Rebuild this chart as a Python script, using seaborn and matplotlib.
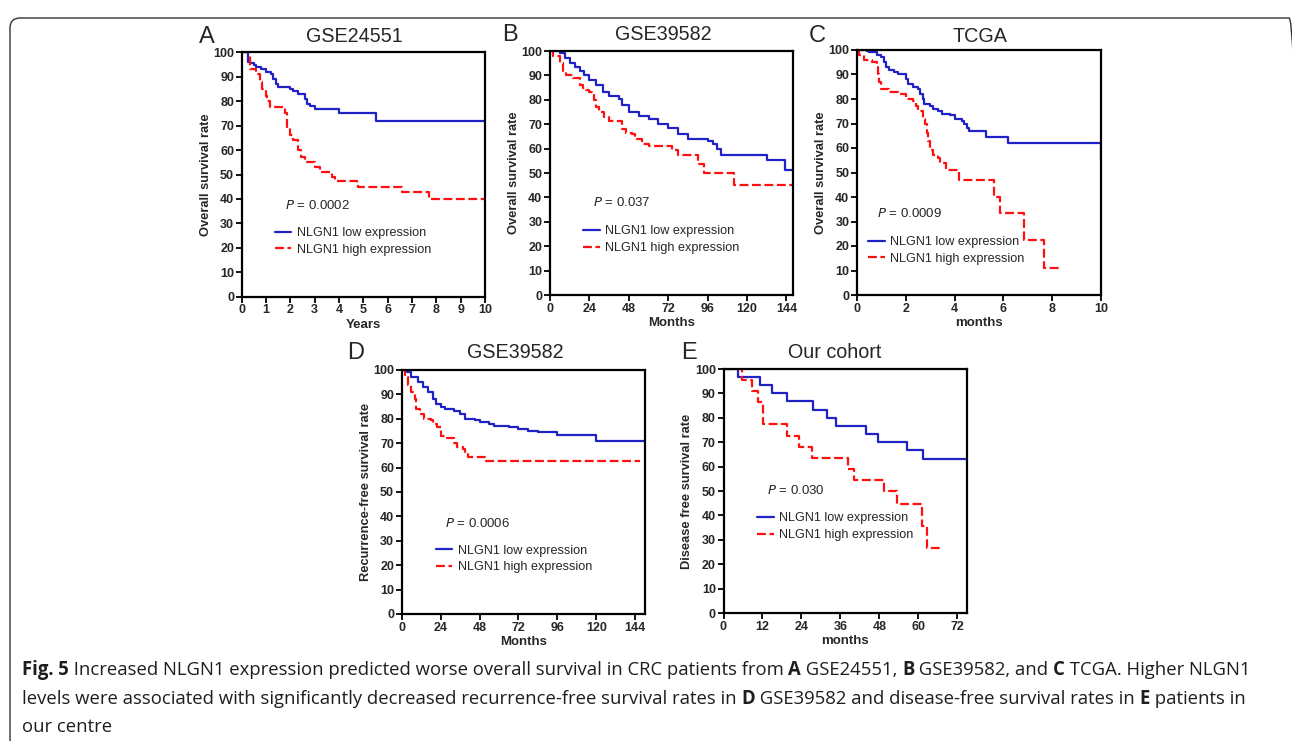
import numpy as np
import pandas as pd
import matplotlib
matplotlib.use("Agg")
import matplotlib.pyplot as plt
import seaborn as sns
from matplotlib.patches import FancyBboxPatch
from matplotlib.transforms import IdentityTransform

sns.set_style("ticks")
plt.rcParams["font.family"] = ["Liberation Sans", "DejaVu Sans"]

W, H = 1292, 741

# ---------------- data (step points: time, survival %) ----------------
# Panel A  GSE24551 (years)
a_low_t = [0, 0.27, 0.35, 0.5, 0.6, 0.8, 1.0, 1.2, 1.3, 1.4, 1.5, 2.0, 2.1, 2.3, 2.6, 2.7, 2.8, 3.0, 4.0, 5.5, 10]
a_low_s = [100, 96, 95.5, 95, 94, 93, 92, 91, 89, 87, 86, 85, 84, 83, 81, 79, 78, 77, 75, 72, 72]
a_high_t = [0, 0.35, 0.4, 0.6, 0.75, 0.85, 1.0, 1.05, 1.15, 1.8, 1.85, 2.0, 2.1, 2.3, 2.45, 2.6, 3.0, 3.2, 3.7, 3.85, 4.75, 4.8, 6.6, 7.7, 10]
a_high_s = [100, 93, 93, 91, 88, 85, 82, 80, 77.5, 75, 69, 66, 64, 60, 57, 55, 53, 51, 49, 47.5, 46, 45, 43, 40, 40]

# Panel B  GSE39582 OS (months)
b_low_t = [0, 6, 9, 12, 15, 18, 21, 24, 28, 32, 36, 42, 44, 48, 54, 60, 66, 72, 78, 84, 96, 99, 102, 104, 132, 143, 148]
b_low_s = [100, 99, 97, 95, 93.5, 92, 90, 88, 86, 83, 81.5, 80.5, 78, 75, 73.5, 72, 70, 68.5, 66, 64, 63, 62, 60, 57.5, 55.3, 51.4, 51.4]
b_high_t = [0, 2, 6, 8, 10, 14, 18, 20, 22, 24, 27, 28, 30, 33, 36, 44, 46, 50, 52, 56, 60, 74, 78, 90, 94, 112, 148]
b_high_s = [100, 98, 95, 92, 90, 89, 86, 85, 84, 83, 80, 77, 75, 73, 71.5, 68, 66.5, 66, 64, 62, 61, 59.5, 57.5, 53.5, 50, 45, 45]

# Panel C  TCGA (months axis 0-10)
c_low_t = [0, 0.4, 0.5, 0.8, 1.0, 1.1, 1.2, 1.3, 1.5, 1.7, 2.0, 2.1, 2.3, 2.5, 2.6, 2.7, 2.75, 3.0, 3.1, 3.3, 3.5, 3.8, 4.0, 4.3, 4.4, 4.5, 4.6, 5.3, 6.2, 9.98, 10]
c_low_s = [100, 99.5, 99, 98, 97, 95, 93, 92, 91, 90, 88, 86, 85, 84, 82, 80, 78, 77, 76, 75, 74, 73.5, 72, 71, 70, 68, 67, 64.5, 62, 55.5, 55.5]
c_high_t = [0, 0.1, 0.3, 0.6, 0.8, 0.85, 0.9, 1.0, 1.3, 1.7, 2.0, 2.3, 2.4, 2.5, 2.7, 2.8, 2.85, 2.9, 3.0, 3.1, 3.3, 3.4, 3.65, 4.2, 5.6, 5.85, 6.85, 7.65, 8.35]
c_high_s = [100, 98, 96, 95, 93, 90, 87, 84, 83, 82, 80, 79, 77, 75, 72, 70, 66, 63, 59, 57, 56, 54, 51, 47, 40, 33.5, 22.5, 11, 11]

# Panel D  GSE39582 RFS (months)
d_low_t = [0, 3, 6, 10, 13, 16, 19, 21, 24, 27, 32, 36, 39, 45, 48, 54, 57, 66, 72, 78, 84, 96, 120, 150]
d_low_s = [100, 99, 97, 95, 93, 91, 88, 86, 85, 84, 83, 82, 80, 79.5, 78.5, 78, 77, 76.5, 76, 75, 74.5, 73.5, 71, 71]
d_high_t = [0, 2, 4, 6, 8, 9, 11, 14, 18, 19, 22, 24, 28, 32, 34, 38, 39, 41, 48, 52, 147]
d_high_s = [100, 97, 94, 91, 88, 84, 82, 80, 79.5, 78, 76.5, 73, 72, 70, 68.5, 67.5, 66, 64.5, 64.3, 62.7, 62.7]

# Panel E  Our cohort DFS (months)
e_low_t = [0, 4.6, 11.3, 14.9, 19.7, 27.7, 31.8, 34.6, 43.8, 47.7, 56.5, 61.3, 75]
e_low_s = [100, 96.7, 93.3, 90, 86.7, 83.3, 80, 76.7, 73.3, 70, 66.7, 63.3, 63.3]
e_high_t = [0, 5.6, 8.7, 10.5, 12.3, 19.7, 23.3, 27.2, 38.5, 40.3, 49.3, 53.4, 61.1, 62.6, 67.2]
e_high_s = [100, 95.5, 91, 86.4, 77.3, 72.7, 68.2, 63.6, 59, 54.5, 50, 44.5, 35.5, 26.8, 26.8]

legend_labels = ["NLGN1 low expression", "NLGN1 high expression"]
panels = [
    dict(letter="A", title="GSE24551", xlabel="Years", ylabel="Overall survival rate",
         low=(a_low_t, a_low_s), high=(a_high_t, a_high_s), p="0.0002",
         xlim=10, xticks=list(range(0, 11, 1))),
    dict(letter="B", title="GSE39582", xlabel="Months", ylabel="Overall survival rate",
         low=(b_low_t, b_low_s), high=(b_high_t, b_high_s), p="0.037",
         xlim=148, xticks=[0, 24, 48, 72, 96, 120, 144]),
    dict(letter="C", title="TCGA", xlabel="months", ylabel="Overall survival rate",
         low=(c_low_t, c_low_s), high=(c_high_t, c_high_s), p="0.0009",
         xlim=10, xticks=[0, 2, 4, 6, 8, 10]),
    dict(letter="D", title="GSE39582", xlabel="Months", ylabel="Recurrence-free survival rate",
         low=(d_low_t, d_low_s), high=(d_high_t, d_high_s), p="0.0006",
         xlim=150, xticks=[0, 24, 48, 72, 96, 120, 144]),
    dict(letter="E", title="Our cohort", xlabel="months", ylabel="Disease free survival rate",
         low=(e_low_t, e_low_s), high=(e_high_t, e_high_s), p="0.030",
         xlim=75, xticks=[0, 12, 24, 36, 48, 60, 72]),
]

# ---------------- layout (pixels) ----------------
boxes = [(241.7, 52.3, 485, 296.7), (550, 51, 793, 295), (857, 50, 1101, 295),
         (401.7, 370, 645, 614), (723.5, 369, 967, 613)]
title_pos = [(354, 37), (663, 35), (980, 36), (515, 353), (835, 353)]
letter_pos = [(207, 37), (510, 35), (817, 36), (356, 353), (689, 353)]
leg_pos = [(0.137, 0.2265), (0.137, 0.227), (0.046, 0.182), (0.141, 0.2255), (0.139, 0.354)]
p_pos = [(0.178, 0.375), (0.178, 0.378), (0.083, 0.333), (0.178, 0.372), (0.177, 0.501)]

BLUE = "#1f22c4"
RED = "#ff1010"

fig = plt.figure(figsize=(W / 100, H / 100), dpi=100)

for i, pnl in enumerate(panels):
    x0, y0, x1, y1 = boxes[i]
    ax = fig.add_axes([x0 / W, 1 - y1 / H, (x1 - x0) / W, (y1 - y0) / H])
    df = pd.concat([
        pd.DataFrame({"time": pnl["low"][0], "surv": pnl["low"][1], "group": "low"}),
        pd.DataFrame({"time": pnl["high"][0], "surv": pnl["high"][1], "group": "high"}),
    ], ignore_index=True)
    sns.lineplot(data=df, x="time", y="surv", hue="group", style="group",
                 hue_order=["low", "high"], style_order=["low", "high"],
                 palette={"low": BLUE, "high": RED},
                 dashes={"low": "", "high": (4, 1.6)},
                 estimator=None, drawstyle="steps-post", linewidth=1.6,
                 legend=False, ax=ax)
    ax.set_xlim(0, pnl["xlim"])
    ax.set_ylim(0, 100)
    ax.set_yticks(range(0, 101, 10))
    ax.set_xticks(pnl["xticks"])
    for sp in ax.spines.values():
        sp.set_visible(True)
        sp.set_linewidth(1.6)
        sp.set_color("black")
    ax.tick_params(direction="out", length=4, width=1.3, labelsize=9, pad=1.5, color="black")
    for lab in ax.get_xticklabels() + ax.get_yticklabels():
        lab.set_fontweight("bold")
    ax.set_xlabel(pnl["xlabel"], fontsize=9.5, fontweight="bold", labelpad=2)
    ax.set_ylabel(pnl["ylabel"], fontsize=9.3, fontweight="bold", labelpad=1)
    lines = ax.get_lines()[:2]
    ax.legend(handles=lines, labels=legend_labels, loc="center left",
              bbox_to_anchor=leg_pos[i], frameon=False, fontsize=9.1,
              handlelength=1.3, handletextpad=0.45, labelspacing=0.38,
              borderpad=0, borderaxespad=0)
    px, py = p_pos[i]
    ax.text(px, py, r"$\mathit{P}$ = " + pnl["p"], transform=ax.transAxes,
            fontsize=9.5, va="center", ha="left")
    tx, ty = title_pos[i]
    fig.text(tx / W, 1 - ty / H, pnl["title"], fontsize=14.2, ha="center", va="center")
    lx, ly = letter_pos[i]
    fig.text(lx / W, 1 - ly / H, pnl["letter"], fontsize=17, ha="center", va="center")

# ---------------- caption ----------------
cap_lines = [
    [("Fig. 5", True), (" Increased NLGN1 expression predicted worse overall survival in CRC patients from ", False),
     ("A", True), (" GSE24551, ", False), ("B", True), (" GSE39582, and ", False), ("C", True),
     (" TCGA. Higher NLGN1", False)],
    [("levels were associated with significantly decreased recurrence-free survival rates in ", False),
     ("D", True), (" GSE39582 and disease-free survival rates in ", False), ("E", True),
     (" patients in", False)],
    [("our centre", False)],
]
baselines = [675, 704, 732]
renderer = fig.canvas.get_renderer()
for segs, base in zip(cap_lines, baselines):
    x = 22.0
    for txt, bold in segs:
        t = fig.text(x / W, 1 - base / H, txt, fontsize=13.35, family=["Open Sans", "DejaVu Sans"],
                     fontweight="bold" if bold else "normal", color="#1e1e1e",
                     ha="left", va="baseline")
        bb = t.get_window_extent(renderer)
        x += bb.width

# ---------------- rounded frame ----------------
frame = FancyBboxPatch((10, -8), 1289, H - 10, boxstyle="round,pad=0,rounding_size=10",
                       transform=IdentityTransform(), fill=False, edgecolor="#333333", linewidth=1.0)
fig.add_artist(frame)

fig.savefig("out.png", dpi=100)
